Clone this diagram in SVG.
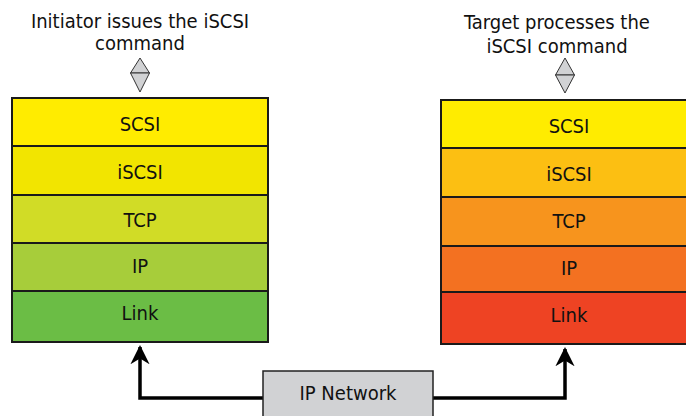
<svg xmlns="http://www.w3.org/2000/svg" width="686" height="416" viewBox="0 0 686 416">
<style>
text{font-family:"DejaVu Sans Condensed","DejaVu Sans","Liberation Sans",sans-serif;font-stretch:condensed;fill:#111;font-size:20px;text-anchor:middle}
.row{stroke:#1a1a1a;stroke-width:2}
.dia{fill:#d1d2d4;stroke:#333;stroke-width:1}
.conn{fill:none;stroke:#000;stroke-width:3.5}
</style>
<defs>
<marker id="ah" viewBox="0 0 10 10" refX="9" refY="5" markerWidth="5.5" markerHeight="5.5" orient="auto" markerUnits="strokeWidth">
<path d="M0,0 L10,5 L0,10 L3,5 z" fill="#000"/>
</marker>
</defs>
<g id="title-left">
<text x="140" y="28">Initiator issues the iSCSI</text>
<text x="140" y="50">command</text>
<g class="dia"><path d="M140,58 L149.5,73 L130.5,73 z"/><path d="M130.5,73 L149.5,73 L140,92 z"/></g>
</g>
<g id="title-right">
<text x="557" y="29">Target processes the</text>
<text x="557" y="53">iSCSI command</text>
<g class="dia"><path d="M565,58 L574.5,75 L555.5,75 z"/><path d="M555.5,75 L574.5,75 L565,93 z"/></g>
</g>
<g id="stack-left">
<rect class="row" x="12" y="98" width="256" height="48" fill="#ffec00"/>
<rect class="row" x="12" y="146" width="256" height="49" fill="#f2e500"/>
<rect class="row" x="12" y="195" width="256" height="48" fill="#d1dc26"/>
<rect class="row" x="12" y="243" width="256" height="48" fill="#a7cd3a"/>
<rect class="row" x="12" y="291" width="256" height="51" fill="#6bbd45"/>
<text x="140" y="131">SCSI</text>
<text x="140" y="179">iSCSI</text>
<text x="140" y="227">TCP</text>
<text x="140" y="273">IP</text>
<text x="140" y="320">Link</text>
</g>
<g id="stack-right">
<rect class="row" x="441" y="100" width="256" height="48" fill="#ffec00"/>
<rect class="row" x="441" y="148" width="256" height="49" fill="#fcbf12"/>
<rect class="row" x="441" y="197" width="256" height="49" fill="#f7941d"/>
<rect class="row" x="441" y="246" width="256" height="46" fill="#f37121"/>
<rect class="row" x="441" y="292" width="256" height="52" fill="#ee4323"/>
<text x="569" y="133">SCSI</text>
<text x="569" y="181">iSCSI</text>
<text x="569" y="228">TCP</text>
<text x="569" y="275">IP</text>
<text x="569" y="322">Link</text>
</g>
<g id="connectors">
<path class="conn" d="M263,398 L140,398 L140,347" marker-end="url(#ah)"/>
<path class="conn" d="M433,398 L565,398 L565,349" marker-end="url(#ah)"/>
</g>
<g id="ip-network">
<rect x="263" y="371" width="170" height="50" fill="#d1d2d4" stroke="#222" stroke-width="1.5"/>
<text x="348" y="400">IP Network</text>
</g>
</svg>
